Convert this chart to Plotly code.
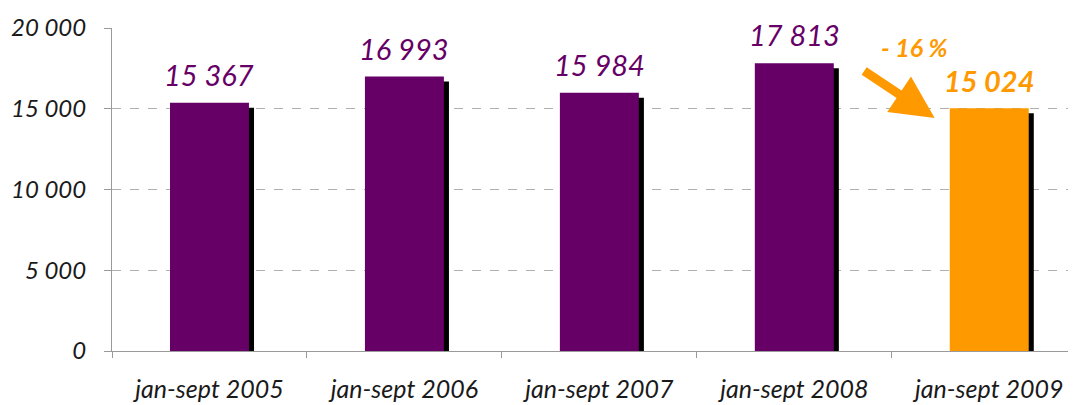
import plotly.graph_objects as go

categories = ["jan-sept 2005", "jan-sept 2006", "jan-sept 2007", "jan-sept 2008", "jan-sept 2009"]
values = [15367, 16993, 15984, 17813, 15024]
bar_colors = ["#660066", "#660066", "#660066", "#660066", "#FF9900"]
y_ticks = [0, 5000, 10000, 15000, 20000]
change_label = "- 16 %"

FONT = "Lato"
BW = 0.405
shadow_dy = 310      # shadow drop in value units (~5 px)
shadow_dx = 0.026    # shadow shift in category units (~5 px)

def fmt(v):
    return f"{v:,}".replace(",", " ")

fig = go.Figure()
fig.add_trace(go.Bar(
    x=categories, y=[v - shadow_dy for v in values],
    width=BW, offset=-BW / 2 + shadow_dx,
    marker=dict(color="black", line=dict(width=0)),
    hoverinfo="skip", showlegend=False,
))
fig.add_trace(go.Bar(
    x=categories, y=values,
    width=BW, offset=-BW / 2,
    marker=dict(color=bar_colors, line=dict(width=0)),
    showlegend=False,
))

for cat, v, c in zip(categories, values, bar_colors):
    hl = c == "#FF9900"
    fig.add_annotation(
        x=cat, y=v, xref="x", yref="y", showarrow=False,
        yanchor="bottom", yshift=8 if hl else 9,
        text=f"<b>{fmt(v)}</b>" if hl else fmt(v),
        font=dict(family=FONT, size=29, color=c, style="italic"),
    )

fig.add_annotation(
    x=3.72, y=14427, xref="x", yref="y",
    ax=-72, ay=-48, axref="pixel", ayref="pixel",
    showarrow=True, arrowhead=2, arrowsize=0.95, arrowwidth=9, arrowcolor="#FF9900",
    text="",
)
fig.add_annotation(
    x=3.615, y=18824, xref="x", yref="y", showarrow=False,
    text=f"<b>{change_label}</b>",
    font=dict(family=FONT, size=25, color="#FF9900", style="italic"),
)

# page body has an 8 px default margin, so the figure is sized to fit the window
fig.update_layout(
    width=1068, height=397,
    margin=dict(l=104, r=0, t=20, b=54, autoexpand=False),
    barmode="overlay",
    plot_bgcolor="white", paper_bgcolor="white",
    font=dict(family=FONT),
)
fig.update_xaxes(
    range=[-0.5, 4.445], automargin=False,
    showline=True, linecolor="#9a9a9a", linewidth=1,
    ticks="outside", tickson="boundaries", ticklen=6, tickcolor="#9a9a9a",
    showgrid=False,
    tickfont=dict(family=FONT, size=25, color="#1a1a1a", style="italic"),
    ticklabelstandoff=16,
)
fig.update_yaxes(
    range=[0, 20000], tickvals=y_ticks, automargin=False,
    ticktext=[fmt(v) for v in y_ticks],
    showline=True, linecolor="#9a9a9a", linewidth=1,
    ticks="outside", ticklen=7, tickcolor="#9a9a9a",
    showgrid=True, gridcolor="#b0b0b0", griddash="dash", gridwidth=1,
    zeroline=False,
    tickfont=dict(family=FONT, size=24, color="#1a1a1a", style="italic"),
    ticklabelstandoff=13,
)

fig.write_html("out.html")
